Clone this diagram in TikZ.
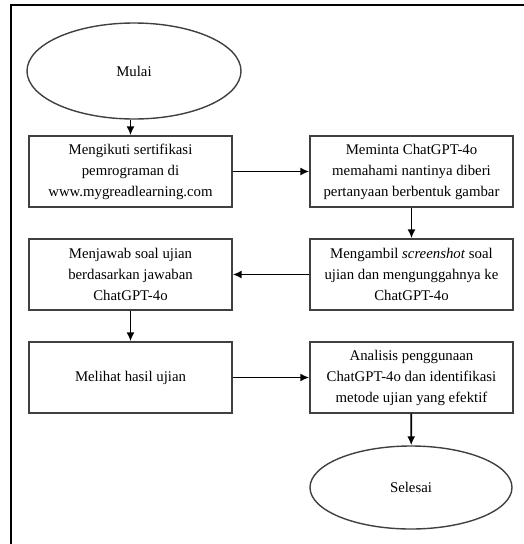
\documentclass[tikz,border=0pt]{standalone}
\usepackage{fontspec}
\setmainfont{Liberation Serif}
\usetikzlibrary{arrows.meta,shapes.geometric}
\begin{document}
\begin{tikzpicture}[x=1pt, y=-1pt, line width=1.4pt,
		proses/.style={rectangle,draw=black!75,minimum width=203pt,minimum height=71pt,align=center,inner sep=0pt},
		terminal/.style={ellipse,draw=black!75,inner sep=0pt},
		panah/.style={line width=1.7pt,-{Latex[length=9pt,width=8pt]}},
		font=\fontsize{14.8}{21}\selectfont
		]
	\useasboundingbox (0,0) rectangle (524,544);
	\draw[line width=2.8pt] (11,544) -- (11,5) -- (524,5);
	\node [terminal,minimum width=214pt,minimum height=96pt] (mulai) at (134,71) {Mulai};
	\node [proses] (sertifikasi) at (130.5,171.5) {Mengikuti sertifikasi\\pemrograman di\\www.mygreadlearning.com};
	\node [proses] (meminta) at (411.5,171.5) {Meminta ChatGPT-4o\\memahami nantinya diberi\\pertanyaan berbentuk gambar};
	\node [proses] (mengambil) at (411.5,274.5) {Mengambil \textit{screenshot} soal\\ujian dan mengunggahnya ke\\ChatGPT-4o};
	\node [proses] (menjawab) at (130.5,274.5) {Menjawab soal ujian\\berdasarkan jawaban\\ChatGPT-4o};
	\node [proses] (melihat) at (130.5,377.5) {Melihat hasil ujian};
	\node [proses] (analisis) at (411.5,377.5) {Analisis penggunaan\\ChatGPT-4o dan identifikasi\\metode ujian yang efektif};
	\node [terminal,minimum width=202pt,minimum height=83pt] (selesai) at (411,487.5) {Selesai};
	\draw [panah] (mulai.south -| sertifikasi.north) -- (sertifikasi.north);
	\draw [panah] (sertifikasi) -- (meminta);
	\draw [panah] (meminta) -- (mengambil);
	\draw [panah] (mengambil) -- (menjawab);
	\draw [panah] (menjawab) -- (melihat);
	\draw [panah] (melihat) -- (analisis);
	\draw [panah] (analisis) -- (selesai);
\end{tikzpicture}
\end{document}
